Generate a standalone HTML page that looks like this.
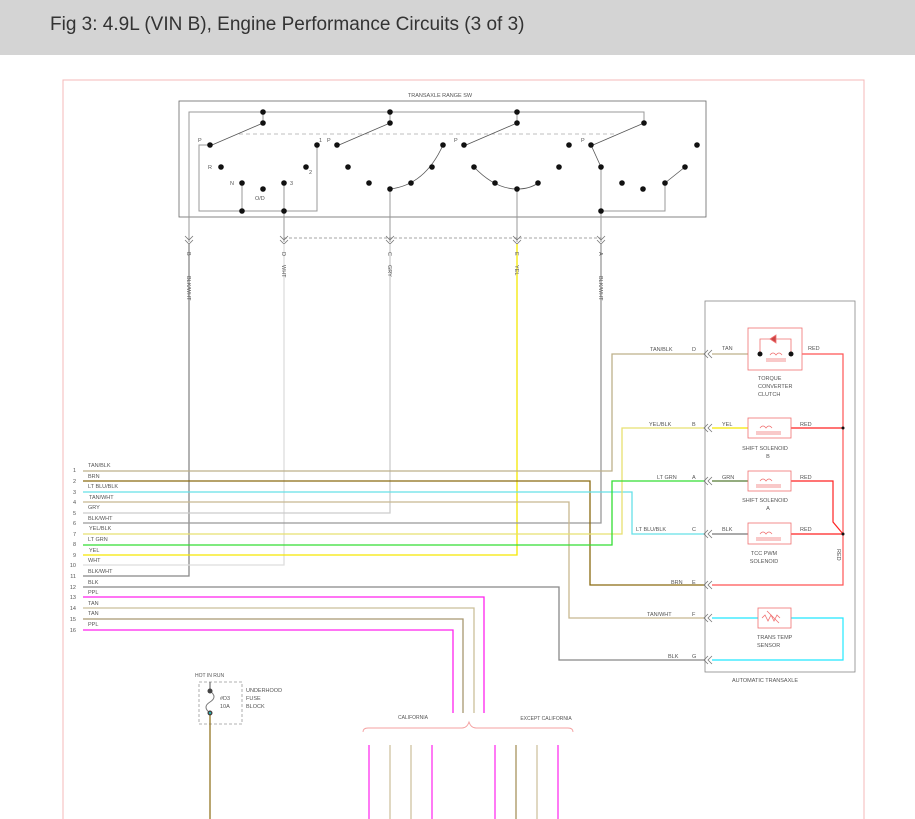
<!DOCTYPE html>
<html><head><meta charset="utf-8"><style>
html,body{margin:0;padding:0;background:#fff;}
.hdr{position:absolute;left:0;top:0;width:915px;height:55px;background:#d4d4d4;}
.hdr span{position:absolute;left:50px;top:14px;font:19px "Liberation Sans",sans-serif;color:#333;}
svg{position:absolute;left:0;top:0;}
text{font-family:"Liberation Sans",sans-serif;font-size:5.5px;fill:#555;}
</style></head><body>
<div class="hdr"><span>Fig 3: 4.9L (VIN B), Engine Performance Circuits (3 of 3)</span></div>
<svg width="915" height="819" viewBox="0 0 915 819">
<!-- frame -->
<path d="M63 819V80H864V819" fill="none" stroke="#f4b8b8" stroke-width="1"/>
<!-- switch box -->
<rect x="179" y="101" width="527" height="116" fill="none" stroke="#666" stroke-width="0.8"/>
<text x="440" y="97" text-anchor="middle">TRANSAXLE RANGE SW</text>
<g stroke="#999" fill="none" stroke-width="1">
<path d="M189 242V112H644V123"/>
<path d="M210 145H199V211H317V145"/>
<path d="M242 183V211M284 183V242"/>
<path d="M390 189V242M517 189V242M601 167V242"/>
<path d="M601 211H665V183"/>
</g>
<path d="M239 134H615" stroke="#aaa" stroke-dasharray="4,3" stroke-width="0.8"/>
<path d="M263 112V123M390 112V123M517 112V123" stroke="#999"/>
<g stroke="#555" stroke-width="0.8" fill="none">
<path d="M263 123L212 145M390 123L339 145M517 123L466 145M644 123L593 145"/>
<path d="M390 189Q425 185 443 145"/>
<path d="M474 167Q495 189 517 189Q530 189 538 183"/>
<path d="M591 145L601 167M665 183L685 167"/>
</g>
<g fill="#111">
<circle cx="263" cy="112" r="2.8"/><circle cx="390" cy="112" r="2.8"/><circle cx="517" cy="112" r="2.8"/>
<circle cx="263" cy="123" r="2.8"/><circle cx="390" cy="123" r="2.8"/><circle cx="517" cy="123" r="2.8"/><circle cx="644" cy="123" r="2.8"/>
<circle cx="210" cy="145" r="2.8"/><circle cx="337" cy="145" r="2.8"/><circle cx="464" cy="145" r="2.8"/><circle cx="591" cy="145" r="2.8"/>
<circle cx="317" cy="145" r="2.8"/><circle cx="443" cy="145" r="2.8"/><circle cx="569" cy="145" r="2.8"/><circle cx="697" cy="145" r="2.8"/>
<circle cx="221" cy="167" r="2.8"/><circle cx="306" cy="167" r="2.8"/><circle cx="348" cy="167" r="2.8"/><circle cx="432" cy="167" r="2.8"/><circle cx="474" cy="167" r="2.8"/><circle cx="559" cy="167" r="2.8"/><circle cx="601" cy="167" r="2.8"/><circle cx="685" cy="167" r="2.8"/>
<circle cx="242" cy="183" r="2.8"/><circle cx="284" cy="183" r="2.8"/><circle cx="369" cy="183" r="2.8"/><circle cx="411" cy="183" r="2.8"/><circle cx="495" cy="183" r="2.8"/><circle cx="538" cy="183" r="2.8"/><circle cx="622" cy="183" r="2.8"/><circle cx="665" cy="183" r="2.8"/>
<circle cx="263" cy="189" r="2.8"/><circle cx="390" cy="189" r="2.8"/><circle cx="517" cy="189" r="2.8"/><circle cx="643" cy="189" r="2.8"/>
<circle cx="242" cy="211" r="2.8"/><circle cx="284" cy="211" r="2.8"/><circle cx="601" cy="211" r="2.8"/>
</g>
<g style="font-size:5px">
<text x="198" y="142" fill="#b35">P</text><text x="319" y="142">1</text><text x="327" y="142" fill="#b35">P</text><text x="454" y="142" fill="#b35">P</text><text x="581" y="142" fill="#b35">P</text>
<text x="208" y="169">R</text><text x="309" y="174">2</text><text x="230" y="185">N</text><text x="290" y="185">3</text><text x="255" y="200">O/D</text>
</g>
<!-- connectors row -->
<path d="M284 238H601" stroke="#888" stroke-dasharray="3,2" stroke-width="0.7"/>
<g stroke="#777" fill="none" stroke-width="0.8">
<path d="M185 236l4 4l4-4M185 240l4 4l4-4M280 236l4 4l4-4M280 240l4 4l4-4M386 236l4 4l4-4M386 240l4 4l4-4M513 236l4 4l4-4M513 240l4 4l4-4M597 236l4 4l4-4M597 240l4 4l4-4"/>
</g>
<!-- vertical outputs -->
<g fill="none" stroke-width="1.3">
<path d="M189 244V576H83" stroke="#888"/>
<path d="M284 244V565H83" stroke="#ddd"/>
<path d="M390 244V513H83" stroke="#ccc"/>
<path d="M517 244V555H83" stroke="#f5e800"/>
<path d="M601 244V523H83" stroke="#999"/>
<path d="M83 471H612V354H705" stroke="#bdb08a"/>
<path d="M83 481H590V585H705" stroke="#8a6a10"/>
<path d="M83 492H632V534H705" stroke="#66e0e8"/>
<path d="M83 502H569V618H705" stroke="#c8b890"/>
<path d="M83 534H622V428H705" stroke="#e8e070"/>
<path d="M83 545H612V481H705" stroke="#33dd33"/>
<path d="M83 587H559V660H705" stroke="#888"/>
<path d="M83 597H484V713" stroke="#ff22ee"/>
<path d="M83 608H474V713" stroke="#cbbf9a"/>
<path d="M83 619H463V713" stroke="#a89770"/>
<path d="M83 630H453V713" stroke="#ff22ee"/>
</g>
<g style="font-size:5px" fill="#555">
<text transform="translate(187,252) rotate(90)">B</text>
<text transform="translate(187,276) rotate(90)">BLK/WHT</text>
<text transform="translate(282,252) rotate(90)">D</text>
<text transform="translate(282,265) rotate(90)">WHT</text>
<text transform="translate(388,252) rotate(90)">C</text>
<text transform="translate(388,265) rotate(90)">GRY</text>
<text transform="translate(515,252) rotate(90)">E</text>
<text transform="translate(515,265) rotate(90)">YEL</text>
<text transform="translate(599,252) rotate(90)">A</text>
<text transform="translate(599,276) rotate(90)">BLK/WHT</text>
</g>
<!-- wire numbers & labels -->
<g style="font-size:5px">
<text x="76" y="472" text-anchor="end">1</text><text x="88" y="467">TAN/BLK</text>
<text x="76" y="483" text-anchor="end">2</text><text x="88" y="478">BRN</text>
<text x="76" y="494" text-anchor="end">3</text><text x="88" y="488">LT BLU/BLK</text>
<text x="76" y="504" text-anchor="end">4</text><text x="89" y="499">TAN/WHT</text>
<text x="76" y="515" text-anchor="end">5</text><text x="88" y="509">GRY</text>
<text x="76" y="525" text-anchor="end">6</text><text x="88" y="520">BLK/WHT</text>
<text x="76" y="536" text-anchor="end">7</text><text x="89" y="530">YEL/BLK</text>
<text x="76" y="546" text-anchor="end">8</text><text x="88" y="541">LT GRN</text>
<text x="76" y="557" text-anchor="end">9</text><text x="89" y="552">YEL</text>
<text x="76" y="567" text-anchor="end">10</text><text x="88" y="562">WHT</text>
<text x="76" y="578" text-anchor="end">11</text><text x="88" y="573">BLK/WHT</text>
<text x="76" y="589" text-anchor="end">12</text><text x="88" y="584">BLK</text>
<text x="76" y="599" text-anchor="end">13</text><text x="88" y="594">PPL</text>
<text x="76" y="610" text-anchor="end">14</text><text x="88" y="605">TAN</text>
<text x="76" y="621" text-anchor="end">15</text><text x="88" y="615">TAN</text>
<text x="76" y="632" text-anchor="end">16</text><text x="88" y="626">PPL</text>
</g>
<!-- automatic transaxle box -->
<rect x="705" y="301" width="150" height="371" fill="none" stroke="#888" stroke-width="0.8"/>
<text x="765" y="682" text-anchor="middle">AUTOMATIC TRANSAXLE</text>
<g stroke="#777" fill="none" stroke-width="0.8">
<path d="M708 350l-4 4l4 4M712 350l-4 4l4 4M708 424l-4 4l4 4M712 424l-4 4l4 4M708 477l-4 4l4 4M712 477l-4 4l4 4M708 530l-4 4l4 4M712 530l-4 4l4 4M708 581l-4 4l4 4M712 581l-4 4l4 4M708 614l-4 4l4 4M712 614l-4 4l4 4M708 656l-4 4l4 4M712 656l-4 4l4 4"/>
</g>
<g fill="none" stroke-width="1.2">
<path d="M712 354H748" stroke="#bdb08a"/>
<path d="M712 428H748" stroke="#f5e800"/>
<path d="M712 481H748" stroke="#557a33"/>
<path d="M712 534H748" stroke="#777"/>
<path d="M802 354H843V585H712" stroke="#ff5555"/>
<path d="M791 428H843" stroke="#ff2222"/>
<path d="M791 481H833V522L843 534" stroke="#ff2222"/>
<path d="M791 534H843" stroke="#ff2222"/>
<path d="M712 618H758M791 618H843V660H712" stroke="#22e8ff"/>
</g>
<circle cx="843" cy="428" r="1.5" fill="#111"/><circle cx="843" cy="534" r="1.5" fill="#111"/>
<g stroke="#f07070" fill="none" stroke-width="0.8">
<rect x="748" y="328" width="54" height="42"/>
<path d="M760 354V339H791V354"/>
<path d="M770 339l6-4v8z" fill="#c44"/>
<path d="M770 355q3-4 6 0q3-4 6 0M766 359H786M766 361H786"/>
<rect x="748" y="418" width="43" height="20"/>
<path d="M760 428q3-4 6 0q3-4 6 0M756 432H781M756 434H781"/>
<rect x="748" y="471" width="43" height="20"/>
<path d="M760 481q3-4 6 0q3-4 6 0M756 485H781M756 487H781"/>
<rect x="748" y="523" width="43" height="21"/>
<path d="M760 534q3-4 6 0q3-4 6 0M756 538H781M756 540H781"/>
<rect x="758" y="608" width="33" height="20"/>
<path d="M762 618l3-3l3 6l3-6l3 6l3-6l3 3M767 611l12 12"/>
</g>
<circle cx="760" cy="354" r="2.5" fill="#111"/><circle cx="791" cy="354" r="2.5" fill="#111"/>
<g style="font-size:5px">
<text x="692" y="351">D</text><text x="650" y="351">TAN/BLK</text><text x="722" y="350">TAN</text><text x="808" y="350">RED</text>
<text x="692" y="426">B</text><text x="649" y="426">YEL/BLK</text><text x="722" y="426">YEL</text><text x="800" y="426">RED</text>
<text x="692" y="479">A</text><text x="657" y="479">LT GRN</text><text x="722" y="479">GRN</text><text x="800" y="479">RED</text>
<text x="692" y="531">C</text><text x="636" y="531">LT BLU/BLK</text><text x="722" y="531">BLK</text><text x="800" y="531">RED</text>
<text x="692" y="584">E</text><text x="671" y="584">BRN</text>
<text x="692" y="616">F</text><text x="647" y="616">TAN/WHT</text>
<text x="692" y="658">G</text><text x="668" y="658">BLK</text>
<text x="758" y="380">TORQUE</text><text x="758" y="388">CONVERTER</text><text x="758" y="396">CLUTCH</text>
<text x="765" y="450" text-anchor="middle">SHIFT SOLENOID</text><text x="768" y="458" text-anchor="middle">B</text>
<text x="765" y="502" text-anchor="middle">SHIFT SOLENOID</text><text x="768" y="510" text-anchor="middle">A</text>
<text x="764" y="555" text-anchor="middle">TCC PWM</text><text x="764" y="563" text-anchor="middle">SOLENOID</text>
<text x="757" y="639">TRANS TEMP</text><text x="757" y="647">SENSOR</text>
<text transform="translate(837,549) rotate(90)">RED</text>
</g>
<!-- fuse -->
<text x="195" y="677" style="font-size:5px">HOT IN RUN</text>
<rect x="199" y="682" width="43" height="42" fill="none" stroke="#999" stroke-dasharray="3,2" stroke-width="0.8"/>
<path d="M210 682V691" stroke="#555"/>
<path d="M210 691q8 6 0 11q-8 5 0 11" fill="none" stroke="#777"/>
<path d="M210 713V819" stroke="#8a6a10" stroke-width="1.2"/>
<circle cx="210" cy="691" r="2.5" fill="#444"/><circle cx="210" cy="713" r="2.5" fill="#444"/><circle cx="210" cy="713" r="1" fill="#2cc"/>
<g style="font-size:5px"><text x="220" y="700">#D3</text><text x="220" y="708">10A</text>
<text x="246" y="692">UNDERHOOD</text><text x="246" y="700">FUSE</text><text x="246" y="708">BLOCK</text></g>
<!-- brace -->
<path d="M363 732q0-4 5-4H462q5 0 7-6q2 6 7 6H568q5 0 5 4" fill="none" stroke="#f4a0a0" stroke-width="0.9"/>
<text x="413" y="719" text-anchor="middle" style="font-size:5px">CALIFORNIA</text>
<text x="546" y="720" text-anchor="middle" style="font-size:5px">EXCEPT CALIFORNIA</text>
<g stroke-width="1.2">
<path d="M369 745V819M432 745V819M495 745V819M558 745V819" stroke="#ff22ee"/>
<path d="M390 745V819M411 745V819M537 745V819" stroke="#cbbf9a"/>
<path d="M516 745V819" stroke="#a08a50"/>
</g>
</svg>
</body></html>
